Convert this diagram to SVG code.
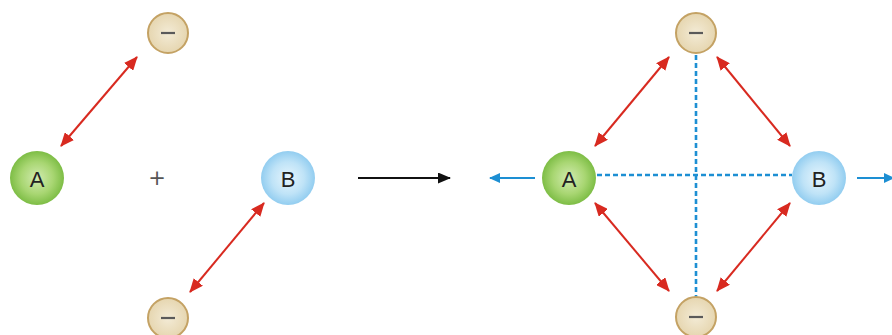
<svg xmlns="http://www.w3.org/2000/svg" width="892" height="335" viewBox="0 0 892 335">
<style>
.lbl{font-family:"Liberation Sans",Arial,sans-serif;font-size:22px;fill:#222;text-anchor:middle;dominant-baseline:central}
.red{stroke:#d82a20;stroke-width:2;fill:none;marker-start:url(#rh);marker-end:url(#rh)}
.dash{stroke:#1d8fd3;stroke-width:2.6;stroke-dasharray:5 3;fill:none}
.blue{stroke:#1d8fd3;stroke-width:2;fill:none;marker-end:url(#bh)}
.minus{stroke:#5a5a5a;stroke-width:2.2}
.neg{fill:url(#gt);stroke:#c4a264;stroke-width:2}
</style>
<defs>
<radialGradient id="gg" cx="0.5" cy="0.5" r="0.5"><stop offset="0" stop-color="#d2ebb0"/><stop offset="0.6" stop-color="#a8d672"/><stop offset="1" stop-color="#7dbd45"/></radialGradient>
<radialGradient id="gb" cx="0.5" cy="0.5" r="0.5"><stop offset="0" stop-color="#e6f5fd"/><stop offset="0.6" stop-color="#bfe3f7"/><stop offset="1" stop-color="#92cdf0"/></radialGradient>
<radialGradient id="gt" cx="0.5" cy="0.5" r="0.5"><stop offset="0" stop-color="#f3ebd6"/><stop offset="1" stop-color="#e6d6b0"/></radialGradient>
<marker id="rh" viewBox="0 0 14 12" refX="13" refY="6" markerWidth="14" markerHeight="12" markerUnits="userSpaceOnUse" orient="auto-start-reverse"><path d="M0,0 L14,6 L0,12 Z" fill="#d82a20"/></marker>
<marker id="bh" viewBox="0 0 11 10" refX="10" refY="5" markerWidth="11" markerHeight="10" markerUnits="userSpaceOnUse" orient="auto"><path d="M0,0 L11,5 L0,10 Z" fill="#1d8fd3"/></marker>
<marker id="kh" viewBox="0 0 13 11" refX="12" refY="5.5" markerWidth="13" markerHeight="11" markerUnits="userSpaceOnUse" orient="auto"><path d="M0,0 L13,5.5 L0,11 Z" fill="#111"/></marker>
</defs>
<g id="connectors">
<line class="red" x1="137" y1="57" x2="61" y2="146"/>
<line class="red" x1="264" y1="203" x2="190" y2="292"/>
<line x1="358" y1="178" x2="450" y2="178" stroke="#111" stroke-width="2" marker-end="url(#kh)"/>
<line class="dash" x1="696" y1="55" x2="696" y2="297"/>
<line class="dash" x1="597" y1="175" x2="792" y2="175"/>
<line class="blue" x1="535" y1="178" x2="490" y2="178"/>
<line class="blue" x1="857" y1="178" x2="894" y2="178"/>
<line class="red" x1="669" y1="57" x2="595" y2="146"/>
<line class="red" x1="717" y1="57" x2="790" y2="146"/>
<line class="red" x1="595" y1="203" x2="669" y2="291"/>
<line class="red" x1="790" y1="203" x2="717" y2="291"/>
</g>
<g id="plus"><text x="157" y="178" style="font-family:'DejaVu Sans',sans-serif;font-size:21px;fill:#555;text-anchor:middle;dominant-baseline:central">+</text></g>
<g id="left-neg-top"><circle class="neg" cx="168" cy="33" r="20"/><line class="minus" x1="161" y1="33" x2="175" y2="33"/></g>
<g id="left-A"><circle cx="37" cy="178" r="27" fill="url(#gg)"/><text class="lbl" x="37" y="179">A</text></g>
<g id="left-B"><circle cx="288" cy="178" r="27" fill="url(#gb)"/><text class="lbl" x="288" y="179">B</text></g>
<g id="left-neg-bottom"><circle class="neg" cx="168" cy="318" r="20"/><line class="minus" x1="161" y1="318" x2="175" y2="318"/></g>
<g id="right-neg-top"><circle class="neg" cx="696" cy="33" r="20"/><line class="minus" x1="689" y1="33" x2="703" y2="33"/></g>
<g id="right-A"><circle cx="569" cy="178" r="27" fill="url(#gg)"/><text class="lbl" x="569" y="179">A</text></g>
<g id="right-B"><circle cx="819" cy="178" r="27" fill="url(#gb)"/><text class="lbl" x="819" y="179">B</text></g>
<g id="right-neg-bottom"><circle class="neg" cx="696" cy="317" r="20"/><line class="minus" x1="689" y1="317" x2="703" y2="317"/></g>
</svg>
